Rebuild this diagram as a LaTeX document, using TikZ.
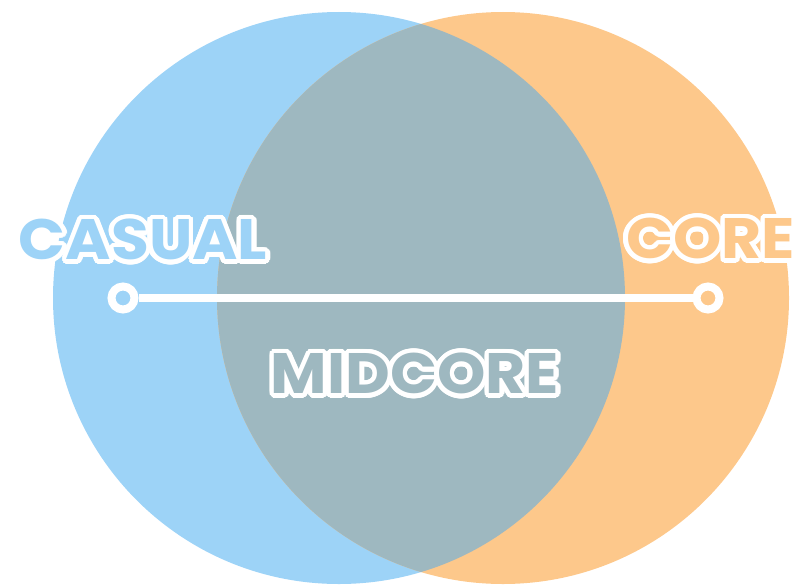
\documentclass[tikz,border=0pt]{standalone}
\usepackage{fontspec}
\newfontfamily\rfont{Poppins}
\usepackage{contour}
\contourlength{4.5pt}
\contournumber{28}
\definecolor{cblue}{HTML}{9DD3F7}
\definecolor{corange}{HTML}{FDC88B}
\definecolor{cmid}{HTML}{9EB8C0}
\newcommand{\outl}[1]{\contour{white}{\scalebox{1.08}[1]{#1}}}
\tikzset{
  venn/.style={circle, minimum size=572pt, inner sep=0pt},
  ring/.style={circle, minimum size=23pt, inner sep=0pt, draw=white, line width=8pt},
  label/.style={inner sep=0pt, font=\rfont\bfseries\fontsize{57}{57}\selectfont},
  bar/.style={draw=white, line width=8pt}
}
\begin{document}
\begin{tikzpicture}[x=1pt,y=-1pt]
\useasboundingbox (0,0) rectangle (794,586);
\coordinate (cb) at (339,298);
\coordinate (co) at (503,298);
\node[venn, fill=cblue] (blue) at (cb) {};
\node[venn, fill=corange] (orange) at (co) {};
\begin{scope}
  \clip (cb) circle (286pt);
  \fill[cmid] (co) circle (286pt);
\end{scope}
\node[ring, fill=cblue] (l) at (123,298) {};
\node[ring, fill=corange] (r) at (708,298) {};
\draw[bar] (l) -- (r);
\node[label, text=cblue] (casual) at (143,242) {\outl{CASUAL}};
\node[label, text=corange, anchor=west] (core) at (626,241) {\outl{CORE}};
\node[label, text=cmid] (midcore) at (415,376) {\outl{MIDCORE}};
\end{tikzpicture}
\end{document}
